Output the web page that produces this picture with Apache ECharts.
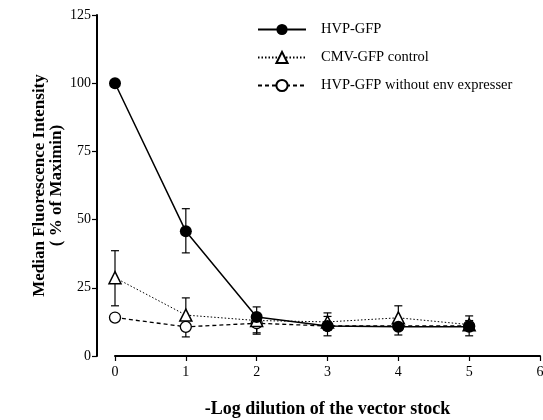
<!DOCTYPE html>
<html>
<head>
<meta charset="utf-8">
<script src="https://cdn.jsdelivr.net/npm/echarts@6/dist/echarts.min.js"></script>
<style>
  html, body { margin: 0; padding: 0; background: #fff; }
  #chart { width: 543px; height: 420px; }
</style>
</head>
<body>
<div id="chart"></div>
<script>
// dilution steps (-log)
var dilution = [0, 1, 2, 3, 4, 5];

// mean values, % of maximum
var hvpGfp = [100, 45.7, 14.3, 11, 10.7, 10.7];
var cmvGfp = [28.7, 15, 13, 12.5, 14, 11.5];
var hvpNoEnv = [14.1, 10.7, 12, 11, 11, 11];

// error bar ends (null = not visible)
var hvpGfpLow = [null, 37.8, 8, 7.4, 7.7, 7.4];
var hvpGfpHigh = [null, 54, 18, 15.8, 13.5, 14.7];
var cmvGfpLow = [18.4, null, null, null, null, null];
var cmvGfpHigh = [38.6, 21.3, null, 14.5, 18.4, 13];
var hvpNoEnvLow = [null, 7, 8.5, null, null, null];
var hvpNoEnvHigh = [null, null, null, null, null, null];

var yTicks = [0, 25, 50, 75, 100, 125];
var xTicks = [0, 1, 2, 3, 4, 5, 6];

var serif = '"Liberation Serif", "DejaVu Serif", serif';

function pairs(vals) {
    return dilution.map(function (x, i) { return [x, vals[i]]; });
}

function errRows(vals, low, high) {
    var rows = [];
    dilution.forEach(function (x, i) {
        if (low[i] != null || high[i] != null) {
            rows.push([x, vals[i], low[i] == null ? vals[i] : low[i], high[i] == null ? vals[i] : high[i],
                low[i] == null ? 0 : 1, high[i] == null ? 0 : 1]);
        }
    });
    return rows;
}

function errorSeries(rows) {
    return {
        type: 'custom',
        silent: true,
        z: 1,
        data: rows,
        renderItem: function (params, api) {
            var top = api.coord([api.value(0), api.value(3)]);
            var bot = api.coord([api.value(0), api.value(2)]);
            var w = 4;
            var children = [{
                type: 'line',
                shape: { x1: top[0], y1: top[1], x2: bot[0], y2: bot[1] },
                style: { stroke: '#000', lineWidth: 1.2 }
            }];
            if (api.value(5)) {
                children.push({ type: 'line', shape: { x1: top[0] - w, y1: top[1], x2: top[0] + w, y2: top[1] },
                    style: { stroke: '#000', lineWidth: 1.2 } });
            }
            if (api.value(4)) {
                children.push({ type: 'line', shape: { x1: bot[0] - w, y1: bot[1], x2: bot[0] + w, y2: bot[1] },
                    style: { stroke: '#000', lineWidth: 1.2 } });
            }
            return { type: 'group', children: children };
        }
    };
}

var myChart = echarts.init(document.getElementById('chart'));
var option = {
    animation: false,
    backgroundColor: '#fff',
    textStyle: { fontFamily: serif, color: '#000' },
    grid: { left: 115, right: 3, top: 15, bottom: 64, outerBoundsMode: 'none' },
    legend: {
        data: ['HVP-GFP', 'CMV-GFP control', 'HVP-GFP without env expresser'],
        orient: 'vertical',
        left: 252,
        top: 17,
        itemWidth: 48,
        itemHeight: 14,
        itemGap: 13,
        selectedMode: false,
        textStyle: { fontFamily: serif, fontSize: 14.5, color: '#000', padding: [0, 0, 0, 10] }
    },
    xAxis: {
        type: 'value',
        min: 0,
        max: 6,
        interval: 1,
        name: '-Log dilution of the vector stock',
        nameLocation: 'middle',
        nameGap: 44,
        nameMoveOverlap: false,
        nameTextStyle: { fontFamily: serif, fontSize: 18, fontWeight: 'bold', color: '#000' },
        axisLine: { onZero: false, lineStyle: { color: '#000', width: 2 } },
        axisTick: { length: 5, lineStyle: { color: '#000', width: 1.2 } },
        axisLabel: {
            fontFamily: serif, fontSize: 14, color: '#000', margin: 9,
            formatter: function (v) { return xTicks.indexOf(v) >= 0 ? String(v) : ''; }
        },
        splitLine: { show: false }
    },
    yAxis: {
        type: 'value',
        min: 0,
        max: 125,
        interval: 25,
        offset: 18,
        name: 'Median Fluorescence Intensity\n( % of Maximin)',
        nameLocation: 'middle',
        nameGap: 32,
        nameMoveOverlap: false,
        nameTextStyle: { fontFamily: serif, fontSize: 17, fontWeight: 'bold', color: '#000', lineHeight: 17 },
        axisLine: { show: true, onZero: false, lineStyle: { color: '#000', width: 2 } },
        axisTick: { show: true, length: 5, lineStyle: { color: '#000', width: 1.2 } },
        axisLabel: {
            fontFamily: serif, fontSize: 14, color: '#000', margin: 6,
            formatter: function (v) { return yTicks.indexOf(v) >= 0 ? String(v) : ''; }
        },
        splitLine: { show: false }
    },
    series: [
        errorSeries(errRows(hvpGfp, hvpGfpLow, hvpGfpHigh)),
        errorSeries(errRows(cmvGfp, cmvGfpLow, cmvGfpHigh)),
        errorSeries(errRows(hvpNoEnv, hvpNoEnvLow, hvpNoEnvHigh)),
        {
            name: 'HVP-GFP without env expresser',
            type: 'line',
            z: 2,
            data: pairs(hvpNoEnv),
            symbol: 'circle',
            symbolSize: 11,
            lineStyle: { color: '#000', width: 1.3, type: [4, 3] },
            itemStyle: { color: '#fff', borderColor: '#000', borderWidth: 1.3 }
        },
        {
            name: 'CMV-GFP control',
            type: 'line',
            z: 3,
            data: pairs(cmvGfp),
            symbol: 'triangle',
            symbolSize: 12,
            lineStyle: { color: '#000', width: 1, type: [1.5, 2] },
            itemStyle: { color: '#fff', borderColor: '#000', borderWidth: 1.5 }
        },
        {
            name: 'HVP-GFP',
            type: 'line',
            z: 4,
            data: pairs(hvpGfp),
            symbol: 'circle',
            symbolSize: 12,
            lineStyle: { color: '#000', width: 1.5 },
            itemStyle: { color: '#000', borderColor: '#000', borderWidth: 0 }
        }
    ]
};
myChart.setOption(option);
</script>
</body>
</html>
